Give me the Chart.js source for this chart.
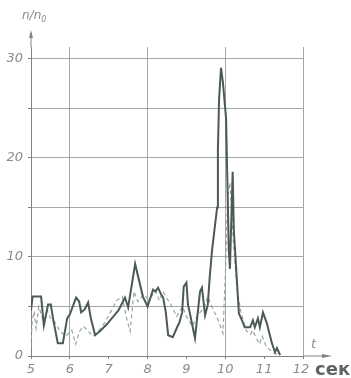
<!DOCTYPE html>
<html>
<head>
<meta charset="utf-8">
<script src="https://cdn.jsdelivr.net/npm/chart.js@4.4.1/dist/chart.umd.min.js"></script>
<style>
  html, body { margin: 0; padding: 0; background: #fff; }
  #wrap { width: 351px; height: 378px; position: relative; }
</style>
</head>
<body>
<div id="wrap"><canvas id="c"></canvas></div>
<script>
// Time axis, seconds
const timeTicks = [5, 6, 7, 8, 9, 10, 11, 12];
const levelTicks = [0, 10, 20, 30];

// Solid curve: n/n0 versus t
const solidT = [5.0, 5.04, 5.26, 5.33, 5.44, 5.51, 5.58, 5.69, 5.82, 5.93, 6.0, 6.16, 6.24, 6.29, 6.38, 6.47, 6.54, 6.65, 6.8, 6.95, 7.1, 7.25, 7.42, 7.5, 7.68, 7.88, 8.0, 8.14, 8.2, 8.27, 8.35, 8.4, 8.47, 8.53, 8.65, 8.76, 8.82, 8.89, 8.93, 9.0, 9.04, 9.09, 9.22, 9.35, 9.4, 9.48, 9.55, 9.6, 9.66, 9.79, 9.81, 9.84, 9.89, 9.94, 10.02, 10.09, 10.12, 10.19, 10.22, 10.35, 10.43, 10.5, 10.64, 10.71, 10.76, 10.84, 10.89, 10.97, 11.07, 11.2, 11.28, 11.33, 11.41];
const solidN = [4.6, 6.0, 6.0, 3.1, 5.2, 5.2, 3.5, 1.3, 1.3, 3.8, 4.2, 5.9, 5.5, 4.4, 4.7, 5.4, 3.8, 2.1, 2.6, 3.2, 3.9, 4.6, 5.9, 4.9, 9.3, 6.0, 5.0, 6.7, 6.5, 6.9, 6.2, 5.9, 4.4, 2.1, 1.9, 2.9, 3.4, 4.4, 7.0, 7.4, 5.2, 4.3, 1.8, 6.5, 6.9, 4.1, 5.2, 8.0, 10.7, 15.0, 20.8, 25.9, 29.1, 27.6, 24.0, 10.7, 8.8, 18.6, 12.7, 4.3, 3.6, 2.9, 2.9, 3.6, 2.9, 3.8, 2.9, 4.4, 3.3, 1.3, 0.4, 0.8, 0.1];

// Dashed curve: n/n0 versus t
const dashT = [5.0, 5.03, 5.08, 5.13, 5.2, 5.28, 5.35, 5.42, 5.5, 5.6, 5.75, 5.9, 6.05, 6.15, 6.25, 6.35, 6.5, 6.6, 6.75, 6.9, 7.1, 7.2, 7.35, 7.45, 7.55, 7.65, 7.75, 7.9, 8.0, 8.1, 8.2, 8.3, 8.4, 8.5, 8.6, 8.75, 8.9, 9.0, 9.15, 9.3, 9.45, 9.55, 9.65, 9.75, 9.85, 9.94, 10.0, 10.06, 10.12, 10.2, 10.3, 10.4, 10.47, 10.55, 10.65, 10.7, 10.8, 10.88, 10.95, 11.05, 11.15, 11.25, 11.4];
const dashN = [1.0, 3.5, 4.5, 2.8, 5.0, 4.0, 3.2, 4.6, 3.8, 3.5, 2.5, 2.0, 2.6, 1.2, 2.5, 3.0, 2.4, 2.0, 2.6, 3.4, 4.8, 5.6, 6.0, 4.0, 2.5, 6.5, 5.5, 6.2, 5.8, 6.0, 6.6, 5.6, 6.5, 5.8, 5.2, 4.0, 5.0, 4.0, 3.0, 4.2, 4.8, 6.0, 5.0, 4.2, 3.3, 2.3, 8.0, 16.0, 17.5, 12.0, 6.8, 4.5, 3.5, 2.5, 2.2, 2.6, 1.8, 1.2, 2.0, 1.0, 0.6, 0.3, 0.1];

const pairs = (xs, ys) => xs.map((x, i) => ({ x, y: ys[i] }));

const inkAxis = '#7d8482';
const inkGrid = 'rgba(125,132,130,0.7)';
const inkText = '#868d8f';

// Axis arrows, axis names and the unit label
const axisDecor = {
  id: 'axisDecor',
  afterDraw(chart) {
    const { ctx, chartArea: a, scales } = chart;
    const x0 = scales.x.getPixelForValue(5);
    const y0 = scales.y.getPixelForValue(0);
    ctx.save();
    ctx.strokeStyle = inkAxis;
    ctx.fillStyle = inkAxis;
    ctx.lineWidth = 1;
    // vertical axis continues up to an arrow
    ctx.beginPath();
    ctx.moveTo(x0, a.top);
    ctx.lineTo(x0, 33);
    ctx.stroke();
    ctx.beginPath();
    ctx.moveTo(x0, 30);
    ctx.lineTo(x0 - 2, 38);
    ctx.lineTo(x0 + 2, 38);
    ctx.closePath();
    ctx.fill();
    // horizontal axis continues right to an arrow
    ctx.beginPath();
    ctx.moveTo(a.right, y0);
    ctx.lineTo(328, y0);
    ctx.stroke();
    ctx.beginPath();
    ctx.moveTo(332, y0);
    ctx.lineTo(322, y0 - 2);
    ctx.lineTo(322, y0 + 2);
    ctx.closePath();
    ctx.fill();

    ctx.fillStyle = inkText;
    ctx.textBaseline = 'middle';
    ctx.textAlign = 'left';
    ctx.font = 'italic 12px "DejaVu Sans", sans-serif';
    ctx.fillText('n/n', 22, 16);
    const w = ctx.measureText('n/n').width;
    ctx.font = 'italic 8px "DejaVu Sans", sans-serif';
    ctx.fillText('0', 22 + w, 20);

    ctx.font = 'italic 13px "DejaVu Sans", sans-serif';
    ctx.fillText('t', 311, 345);

    ctx.fillStyle = '#5d6463';
    ctx.font = 'bold 18px "DejaVu Sans", sans-serif';
    ctx.fillText('сек', 315, 370);
    ctx.restore();
  }
};

new Chart(document.getElementById('c'), {
  type: 'line',
  data: {
    datasets: [
      {
        data: pairs(solidT, solidN),
        borderColor: '#4b5a58',
        borderWidth: 2,
        pointRadius: 0,
        tension: 0,
        fill: false
      },
      {
        data: pairs(dashT, dashN),
        borderColor: '#9aa3a0',
        borderWidth: 1.2,
        borderDash: [4, 3],
        pointRadius: 0,
        tension: 0,
        fill: false
      }
    ]
  },
  options: {
    responsive: true,
    maintainAspectRatio: false,
    animation: false,
    events: [],
    layout: { padding: { left: 0, right: 48, top: 47, bottom: 0 } },
    plugins: { legend: { display: false }, tooltip: { enabled: false } },
    scales: {
      x: {
        type: 'linear',
        min: 5,
        max: 12,
        afterBuildTicks: s => { s.ticks = timeTicks.map(v => ({ value: v })); },
        afterFit: s => { s.height = 22; },
        border: { display: true, color: inkAxis, width: 1 },
        grid: {
          drawOnChartArea: true,
          color: c => (c.tick && c.tick.value % 2 === 0 && c.tick.value > 5) ? inkGrid : 'rgba(0,0,0,0)',
          tickColor: inkAxis,
          tickLength: 3,
          lineWidth: 1
        },
        ticks: {
          color: inkText,
          padding: 3,
          maxRotation: 0,
          font: { family: '"DejaVu Sans", sans-serif', style: 'italic', size: 13 },
          callback: v => (v === 12 ? '12 ' : String(v))
        }
      },
      y: {
        type: 'linear',
        min: 0,
        max: 31.2,
        afterBuildTicks: s => {
          const t = [];
          for (let v = 0; v <= 30; v += 5) t.push({ value: v });
          s.ticks = t;
        },
        afterFit: s => { s.width = 31; },
        border: { display: true, color: inkAxis, width: 1 },
        grid: {
          color: c => (c.tick && c.tick.value > 0) ? inkGrid : 'rgba(0,0,0,0)',
          tickColor: inkAxis,
          tickLength: 3,
          lineWidth: 1
        },
        ticks: {
          color: inkText,
          padding: 5,
          font: { family: '"DejaVu Sans", sans-serif', style: 'italic', size: 13 },
          callback: v => (levelTicks.includes(v) ? String(v) : '')
        }
      }
    }
  },
  plugins: [axisDecor]
});
</script>
</body>
</html>
